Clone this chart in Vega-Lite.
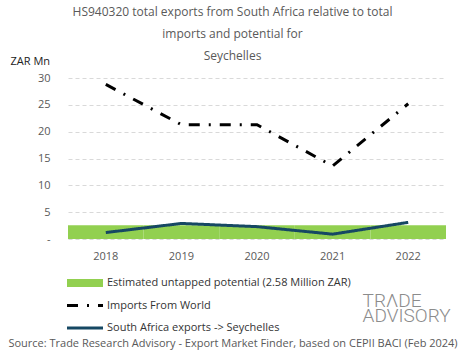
{
  "$schema": "https://vega.github.io/schema/vega-lite/v6.json",
  "width": 378,
  "height": 161,
  "autosize": {"type": "none"},
  "padding": {"left": 68, "top": 78, "right": 19, "bottom": 120},
  "background": "white",
  "title": {
    "text": ["HS940320 total exports from South Africa relative to total", "imports and potential for", "Seychelles"],
    "anchor": "middle",
    "dx": -24.5,
    "fontSize": 12,
    "fontWeight": "normal",
    "font": "Open Sans",
    "color": "#595959",
    "lineHeight": 22,
    "offset": -8
  },
  "config": {
    "view": {"stroke": null},
    "font": "Open Sans",
    "axisY": {"gridDash": [4, 3], "gridColor": "#d9d9d9", "gridWidth": 1}
  },
  "data": {
    "values": [
      {"year": "2018", "series": "Estimated untapped potential (2.58 Million ZAR)", "value": 2.58},
      {"year": "2019", "series": "Estimated untapped potential (2.58 Million ZAR)", "value": 2.58},
      {"year": "2020", "series": "Estimated untapped potential (2.58 Million ZAR)", "value": 2.58},
      {"year": "2021", "series": "Estimated untapped potential (2.58 Million ZAR)", "value": 2.58},
      {"year": "2022", "series": "Estimated untapped potential (2.58 Million ZAR)", "value": 2.58},
      {"year": "2018", "series": "Imports From World", "value": 28.8},
      {"year": "2019", "series": "Imports From World", "value": 21.3},
      {"year": "2020", "series": "Imports From World", "value": 21.3},
      {"year": "2021", "series": "Imports From World", "value": 13.6},
      {"year": "2022", "series": "Imports From World", "value": 25.2},
      {"year": "2018", "series": "South Africa exports -> Seychelles", "value": 1.2},
      {"year": "2019", "series": "South Africa exports -> Seychelles", "value": 2.9},
      {"year": "2020", "series": "South Africa exports -> Seychelles", "value": 2.3},
      {"year": "2021", "series": "South Africa exports -> Seychelles", "value": 0.9},
      {"year": "2022", "series": "South Africa exports -> Seychelles", "value": 3.1}
    ]
  },
  "layer": [
    {
      "transform": [{"filter": "datum.series === 'Estimated untapped potential (2.58 Million ZAR)'"}],
      "mark": {"type": "bar"},
      "encoding": {
        "x": {
          "field": "year",
          "type": "ordinal",
          "scale": {"type": "band", "paddingInner": 0, "paddingOuter": 0},
          "axis": {
            "title": "Source: Trade Research Advisory - Export Market Finder, based on CEPII BACI (Feb 2024)",
            "titleFontSize": 11,
            "titleFontWeight": "normal",
            "titleColor": "#595959",
            "titleX": 164.5,
            "titleY": 104,
            "titleBaseline": "middle",
            "titleAnchor": "middle",
            "titleAlign": "center",
            "labelAngle": 0,
            "labelFontSize": 11,
            "labelColor": "#595959",
            "labelPadding": 11,
            "ticks": false,
            "domain": false,
            "grid": false
          }
        },
        "y": {
          "field": "value",
          "type": "quantitative",
          "scale": {"domain": [0, 30], "nice": false, "zero": true},
          "axis": {
            "title": "ZAR Mn",
            "titleAngle": 0,
            "titleAlign": "left",
            "titleBaseline": "middle",
            "titleX": -58,
            "titleY": -17,
            "titleFontSize": 11,
            "titleFontWeight": "normal",
            "titleColor": "#222222",
            "tickCount": 6,
            "labelExpr": "datum.value === 0 ? '-' : datum.label",
            "labelFontSize": 11,
            "labelColor": "#595959",
            "labelPadding": 18,
            "ticks": false,
            "domain": false,
            "grid": true
          }
        },
        "color": {
          "field": "series",
          "type": "nominal",
          "scale": {
            "domain": ["Estimated untapped potential (2.58 Million ZAR)", "Imports From World", "South Africa exports -> Seychelles"],
            "range": ["#92d050", "#000000", "#164863"]
          },
          "legend": {
            "title": null,
            "orient": "none",
            "legendX": -1,
            "legendY": 198,
            "direction": "vertical",
            "symbolType": "stroke",
            "symbolSize": 100,
            "symbolStrokeWidth": 3,
            "labelFontSize": 11,
            "labelColor": "#333333",
            "labelLimit": 400,
            "rowPadding": 10.5,
            "encode": {
              "symbols": {
                "update": {
                  "x": {"value": 18},
                  "y": {"value": 7},
                  "size": {"value": 1296},
                  "strokeJoin": {"value": "round"},
                  "strokeCap": {"value": "butt"},
                  "strokeWidth": {"signal": "datum.value === 'Estimated untapped potential (2.58 Million ZAR)' ? 8 : 3"},
                  "strokeDash": {"signal": "datum.value === 'Imports From World' ? [10, 10, 2, 10, 2, 10] : [1, 0]"}
                }
              },
              "labels": {
                "update": {
                  "x": {"value": 40},
                  "y": {"value": 7},
                  "baseline": {"value": "middle"}
                }
              }
            }
          }
        }
      }
    },
    {
      "transform": [{"filter": "datum.series !== 'Estimated untapped potential (2.58 Million ZAR)'"}],
      "mark": {"type": "line", "strokeWidth": 3, "strokeCap": "butt"},
      "encoding": {
        "x": {"field": "year", "type": "ordinal"},
        "y": {"field": "value", "type": "quantitative"},
        "color": {"field": "series", "type": "nominal"},
        "strokeDash": {
          "field": "series",
          "type": "nominal",
          "scale": {
            "domain": ["Estimated untapped potential (2.58 Million ZAR)", "Imports From World", "South Africa exports -> Seychelles"],
            "range": [[1, 0], [11, 9, 2, 9], [1, 0]]
          }
        }
      }
    },
    {
      "data": {"values": [{"logo": "TRΛDE", "row": 1}, {"logo": "ADVISORY", "row": 2}]},
      "mark": {"type": "text", "align": "left", "baseline": "alphabetic", "fontSize": 19, "fontWeight": 300, "font": "Roboto", "color": "#8c8c8c", "dx": 30},
      "encoding": {
        "x": {"datum": "2021", "type": "ordinal"},
        "y": {"datum": -12.7, "type": "quantitative"},
        "yOffset": {"field": "row", "type": "ordinal", "scale": {"type": "point", "range": [0, 15], "padding": 0}},
        "text": {"field": "logo", "type": "nominal"}
      }
    }
  ]
}
